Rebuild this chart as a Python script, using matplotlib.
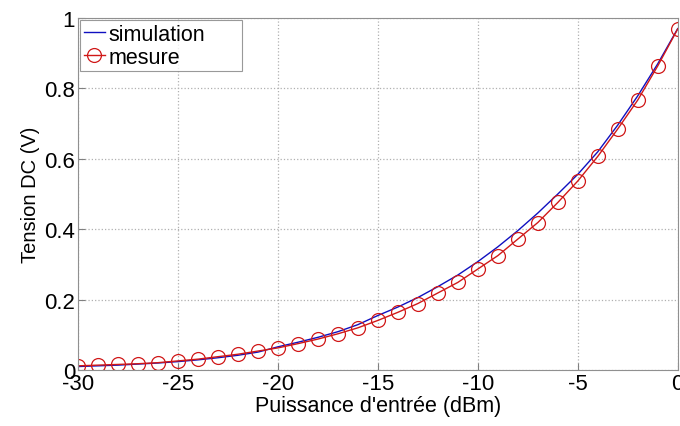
import numpy as np
import matplotlib
matplotlib.use("Agg")
import matplotlib.pyplot as plt

plt.rcParams['font.family'] = ['Liberation Sans', 'DejaVu Sans']
plt.rcParams['axes.unicode_minus'] = False

# puissance d'entree (dBm)
p_in = list(range(-30, 1))
# tension DC simulee (V)
v_sim = [0.010, 0.012, 0.014, 0.017, 0.020, 0.024, 0.029, 0.035, 0.042, 0.051,
         0.066, 0.079, 0.093, 0.109, 0.129, 0.155, 0.179, 0.206, 0.237, 0.270,
         0.308, 0.350, 0.396, 0.446, 0.500, 0.556, 0.620, 0.696, 0.779, 0.870,
         0.970]
# tension DC mesuree (V)
v_mes = [0.012, 0.014, 0.016, 0.018, 0.021, 0.026, 0.031, 0.038, 0.045, 0.054,
         0.063, 0.075, 0.088, 0.103, 0.120, 0.141, 0.164, 0.189, 0.219, 0.249,
         0.287, 0.325, 0.372, 0.419, 0.476, 0.537, 0.607, 0.685, 0.767, 0.864,
         0.969]

xticks = [-30, -25, -20, -15, -10, -5, 0]
yticks = [0, 0.2, 0.4, 0.6, 0.8, 1]
ytick_labels = ['0', '0.2', '0.4', '0.6', '0.8', '1']

fig = plt.figure(figsize=(6.8, 4.27), dpi=100)
ax = fig.add_axes([0.1147, 0.131, 0.882, 0.8245])

ax.plot(p_in, v_sim, color='#1010c0', linewidth=1.0, label='simulation')
ax.plot(p_in, v_mes, color='#d01818', linewidth=1.0, marker='o', markersize=10,
        markerfacecolor='none', markeredgecolor='#d01818', markeredgewidth=0.9,
        label='mesure')

ax.set_xlim(-30, 0)
ax.set_ylim(0, 1)
ax.set_xticks(xticks)
ax.set_yticks(yticks)
ax.set_yticklabels(ytick_labels)
ax.tick_params(direction='in', labelsize=16, length=5, color='#808080', pad=2)
for s in ax.spines.values():
    s.set_color('#909090')
ax.grid(True, linestyle=':', color='#b0b0b0', linewidth=0.9)

ax.set_xlabel("Puissance d'entrée (dBm)", fontsize=15.5, labelpad=1)
ax.set_ylabel("Tension DC (V)", fontsize=14.5, labelpad=3)

leg = ax.legend(loc='upper left', fontsize=15.5, frameon=True, fancybox=False,
                bbox_to_anchor=(0.004, 0.993, 0.27, 0), mode='expand',
                borderaxespad=0.0, handlelength=1.0, handletextpad=0.15,
                borderpad=0.15, labelspacing=0.1)
leg.get_frame().set_edgecolor('#808080')
leg.get_frame().set_linewidth(0.8)

fig.savefig('out.png', dpi=100)
